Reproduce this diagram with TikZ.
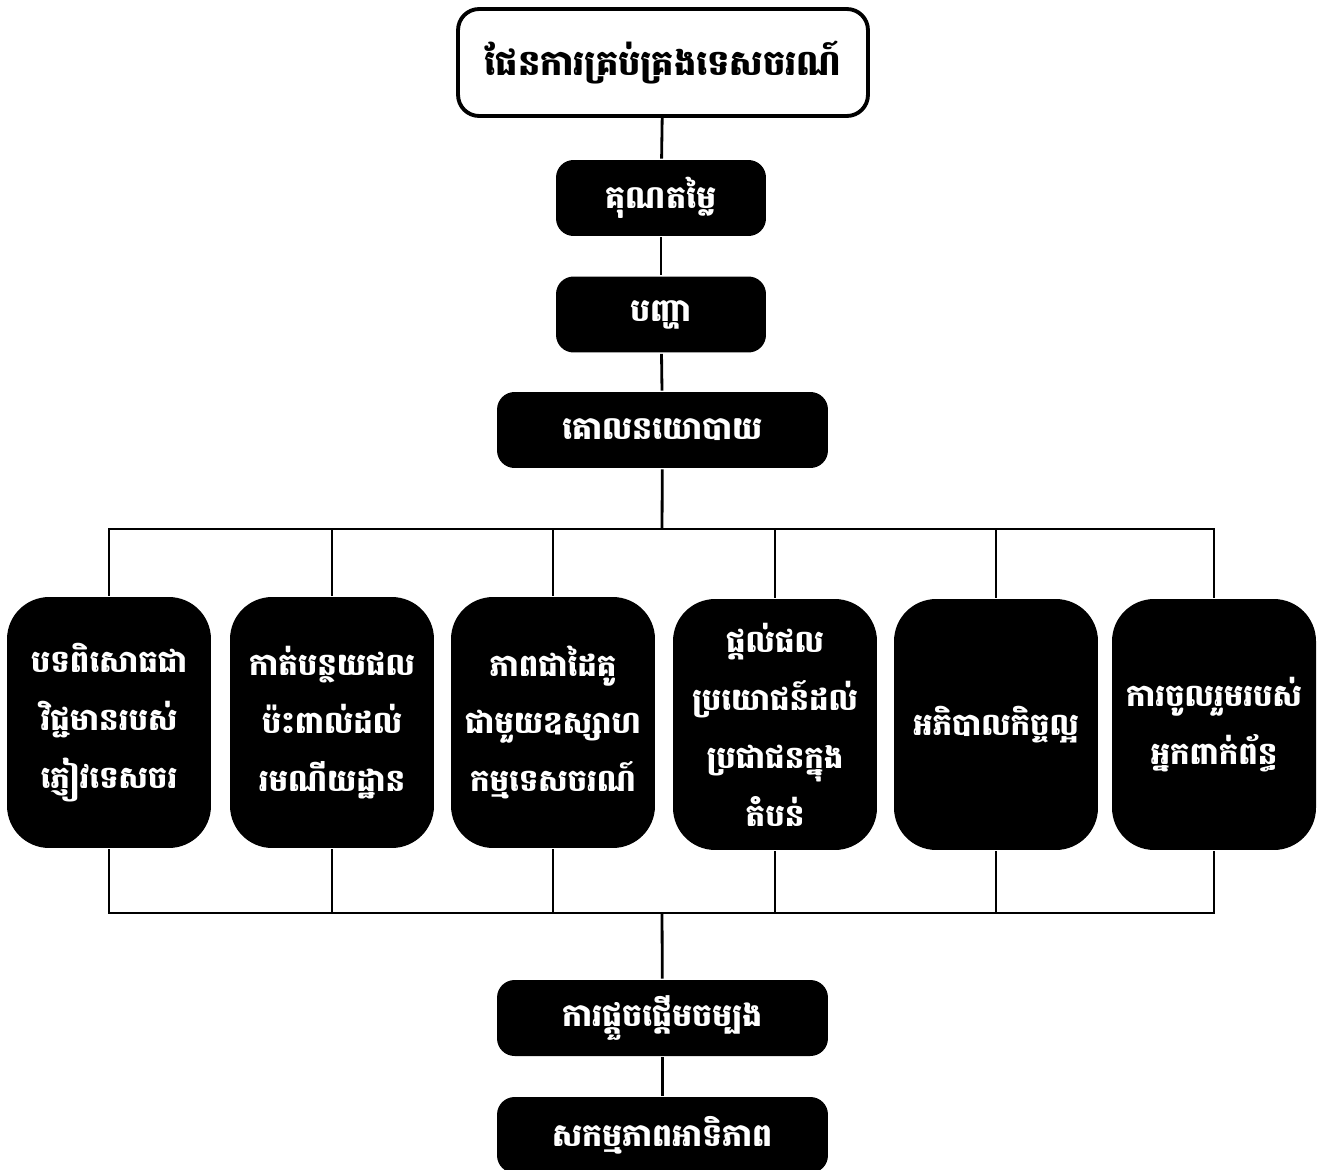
\documentclass[tikz,border=0pt]{standalone}
\usepackage{fontspec}
\newfontfamily\khmer[Script=Khmer]{Battambang}
\usetikzlibrary{positioning}

\begin{document}
\begin{tikzpicture}[x=0.02cm,y=-0.02cm,line width=1.6pt,
  every node/.style={font=\khmer\bfseries\fontsize{18}{33}\selectfont,align=center,inner sep=2pt},
  planbox/.style={draw,line width=2.2pt,rounded corners=12pt,fill=white,text=black,
    font=\khmer\bfseries\fontsize{20}{33}\selectfont,
    minimum width=8.2cm,minimum height=2.14cm},
  smallbox/.style={fill=black,text=white,rounded corners=10pt,
    minimum width=4.2cm,minimum height=1.52cm},
  widebox/.style={fill=black,text=white,rounded corners=10pt,
    minimum width=6.62cm,minimum height=1.52cm},
  goalbox/.style={fill=black,text=white,rounded corners=24pt,
    font=\khmer\bfseries\fontsize{17.5}{33}\selectfont,
    minimum width=4.08cm,minimum height=5.02cm}]
\useasboundingbox (0,0) rectangle (1321,1169);
% top of the chart
  \node[planbox]  (plan)   at (663,62.5)  {ផែនការគ្រប់គ្រងទេសចរណ៍};
  \node[smallbox] (values) at (661,198)   {គុណតម្លៃ};
  \node[smallbox] (issue)  at (661,314.5) {បញ្ហា};
  \node[widebox]  (policy) at (662.5,430) {គោលនយោបាយ};

% the six goals
  \node[goalbox] (g1) at (109,722.5)  {បទពិសោធជា\\វិជ្ជមានរបស់\\ភ្ញៀវទេសចរ};
  \node[goalbox] (g2) at (332,722.5)  {កាត់បន្ថយផល\\ប៉ះពាល់ដល់\\រមណីយដ្ឋាន};
  \node[goalbox] (g3) at (553,722.5)  {ភាពជាដៃគូ\\ជាមួយឧស្សាហ\\កម្មទេសចរណ៍};
  \node[goalbox] (g4) at (775,724.5)  {ផ្តល់ផល\\ប្រយោជន៍ដល់\\ប្រជាជនក្នុង\\តំបន់};
  \node[goalbox] (g5) at (996,724.5)  {អភិបាលកិច្ចល្អ};
  \node[goalbox] (g6) at (1214,724.5) {ការចូលរួមរបស់\\អ្នកពាក់ព័ន្ធ};

% bottom of the chart
  \node[widebox] (start)    at (662.5,1018) {ការផ្តួចផ្តើមចម្បង};
  \node[widebox] (priority) at (662.5,1135) {សកម្មភាពអាទិភាព};

  \coordinate (bustop) at (662,529);
  \coordinate (busbot) at (662,913);

  \draw (plan) -- (values);
  \draw (values) -- (issue);
  \draw (issue) -- (policy);
  \draw (policy) -- (bustop);
  \draw (g1.north) |- (g6.north |- bustop) -- (g6.north);
  \draw (g1.south) |- (g6.south |- busbot) -- (g6.south);
  \foreach \g in {g2,g3,g4,g5} {
    \draw (\g.north) -- (\g.north |- bustop);
    \draw (\g.south) -- (\g.south |- busbot);
  }
  \draw (busbot) -- (start);
  \draw (start) -- (priority);
\end{tikzpicture}
\end{document}
